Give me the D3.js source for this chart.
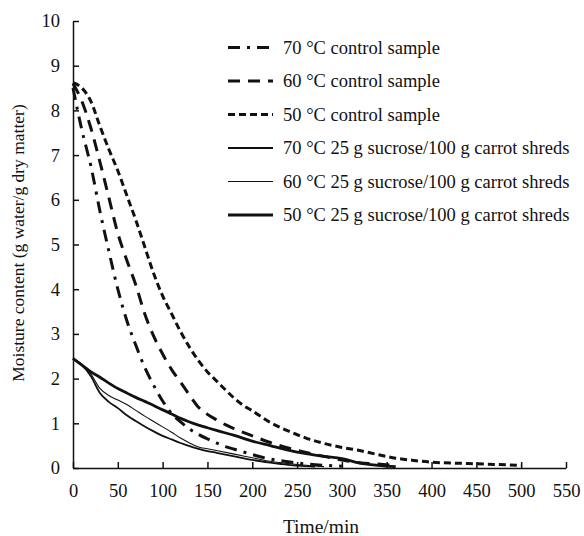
<!DOCTYPE html>
<html lang="en">

<head>
  <meta charset="UTF-8" />
  <script src="https://d3js.org/d3.v7.min.js"></script>
  <style>
    body {
      margin: 0;
      background: #fff;
    }

    text {
      font-family: "Liberation Serif", "Times New Roman", serif;
      fill: #111;
    }

    .axis path,
    .axis line {
      stroke: #111;
      stroke-width: 1.5px;
    }
  </style>
</head>

<body>
  <svg id="chart" width="584" height="536"></svg>

  <script>
    // drying curves, [time in min, moisture in g water / g dry matter]
    const control70 = [[0, 8.5], [10, 7.55], [20, 6.75], [30, 5.75], [40, 4.85], [50, 4.0], [60, 3.3], [70, 2.75],
    [80, 2.25], [90, 1.85], [100, 1.5], [110, 1.22], [120, 1.03], [130, 0.87], [140, 0.75], [150, 0.65], [160, 0.56],
    [170, 0.48], [180, 0.42], [190, 0.36], [200, 0.3], [220, 0.2], [240, 0.14], [260, 0.09], [280, 0.06], [300, 0.04]];
    const control60 = [[0, 8.6], [10, 8.2], [20, 7.6], [30, 6.85], [40, 6.05], [50, 5.25], [60, 4.65], [70, 4.1],
    [80, 3.45], [90, 2.95], [100, 2.55], [110, 2.2], [120, 1.92], [130, 1.63], [140, 1.36], [150, 1.2], [160, 1.08],
    [170, 0.97], [180, 0.88], [200, 0.72], [220, 0.57], [240, 0.45], [260, 0.35], [280, 0.26], [300, 0.18],
    [320, 0.12], [340, 0.09], [360, 0.05]];
    const control50 = [[0, 8.62], [10, 8.5], [20, 8.2], [30, 7.65], [40, 7.13], [50, 6.65], [60, 6.1], [70, 5.55],
    [80, 4.95], [90, 4.35], [100, 3.85], [110, 3.45], [120, 3.05], [130, 2.7], [140, 2.4], [150, 2.15], [160, 1.95],
    [170, 1.75], [180, 1.56], [190, 1.4], [200, 1.28], [220, 1.02], [240, 0.83], [260, 0.67], [280, 0.55],
    [300, 0.46], [320, 0.39], [340, 0.3], [360, 0.22], [380, 0.17], [400, 0.13], [440, 0.1], [500, 0.06]];
    const sucrose70 = [[0, 2.45], [10, 2.3], [20, 2.05], [30, 1.68], [40, 1.48], [50, 1.34], [60, 1.18], [70, 1.05],
    [80, 0.93], [90, 0.82], [100, 0.72], [110, 0.64], [120, 0.56], [130, 0.49], [140, 0.43], [150, 0.38],
    [160, 0.34], [180, 0.26], [200, 0.18], [220, 0.12], [240, 0.07], [260, 0.04], [270, 0.03]];
    const sucrose60 = [[0, 2.45], [10, 2.32], [20, 2.1], [30, 1.78], [40, 1.62], [50, 1.52], [60, 1.42], [70, 1.29],
    [80, 1.16], [90, 1.04], [100, 0.92], [110, 0.8], [120, 0.67], [130, 0.56], [140, 0.47], [150, 0.43],
    [160, 0.39], [180, 0.31], [200, 0.23], [220, 0.15], [240, 0.1], [260, 0.06], [280, 0.03]];
    const sucrose50 = [[0, 2.45], [10, 2.3], [20, 2.15], [30, 2.03], [40, 1.9], [50, 1.78], [60, 1.68], [70, 1.58],
    [80, 1.49], [90, 1.4], [100, 1.3], [110, 1.21], [120, 1.11], [130, 1.03], [140, 0.96], [150, 0.9],
    [160, 0.84], [180, 0.73], [200, 0.6], [220, 0.5], [240, 0.4], [260, 0.32], [280, 0.26], [300, 0.21],
    [320, 0.11], [340, 0.06], [360, 0.03]];

    const seriesNames = ["70 °C control sample", "60 °C control sample", "50 °C control sample",
      "70 °C 25 g sucrose/100 g carrot shreds", "60 °C 25 g sucrose/100 g carrot shreds",
      "50 °C 25 g sucrose/100 g carrot shreds"];
    const xTicks = [0, 50, 100, 150, 200, 250, 300, 350, 400, 450, 500, 550];
    const yTicks = [0, 1, 2, 3, 4, 5, 6, 7, 8, 9, 10];

    const series = [control70, control60, control50, sucrose70, sucrose60, sucrose50];
    const lineStyles = [
      { w: 3, dash: "12,7,3,7" },
      { w: 3, dash: "12,8" },
      { w: 3, dash: "7,4" },
      { w: 1.8, dash: null },
      { w: 1.1, dash: null },
      { w: 2.8, dash: null }
    ];

    const svg = d3.select("#chart");
    const margin = { top: 21, left: 73 };
    const chartWidth = 493;
    const chartHeight = 447;

    const xScale = d3.scaleLinear().domain([0, 550]).range([0, chartWidth]);
    const yScale = d3.scaleLinear().domain([0, 10]).range([chartHeight, 0]);

    let chartArea = svg.append("g")
      .attr("transform", "translate(" + margin.left + "," + margin.top + ")");

    let line = d3.line()
      .x(d => xScale(d[0]))
      .y(d => yScale(d[1]))
      .curve(d3.curveMonotoneX);

    series.forEach((s, i) => {
      chartArea.append("path")
        .datum(s)
        .attr("d", line)
        .attr("fill", "none")
        .attr("stroke", "#111")
        .attr("stroke-width", lineStyles[i].w)
        .attr("stroke-dasharray", lineStyles[i].dash);
    });

    let leftAxis = d3.axisLeft(yScale).tickValues(yTicks)
      .tickSizeInner(-6).tickSizeOuter(0).tickPadding(13);
    chartArea.append("g")
      .attr("class", "axis")
      .call(leftAxis)
      .selectAll("text")
      .attr("font-size", "18.5px")
      .style("font-family", "'Liberation Serif', serif");

    let bottomAxis = d3.axisBottom(xScale).tickValues(xTicks)
      .tickSizeInner(-6).tickSizeOuter(0).tickPadding(16);
    chartArea.append("g")
      .attr("class", "axis")
      .attr("transform", "translate(0," + chartHeight + ")")
      .call(bottomAxis)
      .selectAll("text")
      .attr("font-size", "18.5px")
      .style("font-family", "'Liberation Serif', serif");

    svg.append("text")
      .attr("x", 321).attr("y", 533)
      .attr("text-anchor", "middle")
      .attr("font-size", "19.5px")
      .text("Time/min");

    svg.append("text")
      .attr("transform", "translate(18,243) rotate(-90)")
      .attr("text-anchor", "middle")
      .attr("dy", "0.35em")
      .attr("font-size", "17.5px")
      .text("Moisture content (g water/g dry matter)");

    // legend
    seriesNames.forEach((name, i) => {
      const ly = 47.5 + i * 33.5;
      svg.append("line")
        .attr("x1", 228).attr("x2", 273)
        .attr("y1", ly).attr("y2", ly)
        .attr("stroke", "#111")
        .attr("stroke-width", lineStyles[i].w)
        .attr("stroke-dasharray", lineStyles[i].dash);
      svg.append("text")
        .attr("x", 283).attr("y", ly)
        .attr("dy", "0.35em")
        .attr("font-size", "18.5px")
        .text(name);
    });
  </script>
</body>

</html>
